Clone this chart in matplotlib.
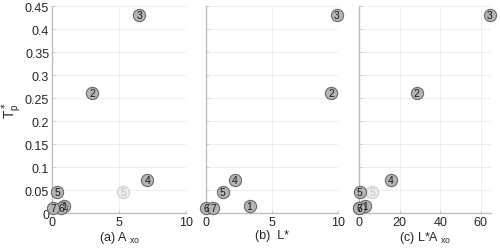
import matplotlib
matplotlib.use("Agg")
import matplotlib.pyplot as plt

plt.rcParams["font.family"] = ["Liberation Sans", "DejaVu Sans"]

# point labels and values
labels = ["1", "2", "3", "4", "5", "6", "7"]
tp = [0.016, 0.26, 0.43, 0.073, 0.045, 0.012, 0.011]
a_xo = [0.9, 3.0, 6.5, 7.1, 0.4, 0.7, 0.1]
l_star = [3.3, 9.5, 9.9, 2.2, 1.25, 0.0, 0.55]
l_a_xo = [3.0, 28.4, 64.5, 15.8, 0.3, 0.0, 0.1]

# the faded extra "5" point
extra_label = "5"
extra_tp = 0.045
extra_a_xo = 5.3
extra_l_a_xo = 6.5

y_ticks = [0, 0.05, 0.1, 0.15, 0.2, 0.25, 0.3, 0.35, 0.4, 0.45]
y_tick_labels = ["0", "0.05", "0.1", "0.15", "0.2", "0.25", "0.3", "0.35", "0.4", "0.45"]

panels = [
    (a_xo, [0, 5, 10], (0, 10), r"(a) A$_{\ \mathregular{xo}}$", extra_a_xo),
    (l_star, [0, 5, 10], (0, 10), "(b)  L*", None),
    (l_a_xo, [0, 20, 40, 60], (0, 65), r"(c) L*A$_{\ \mathregular{xo}}$", extra_l_a_xo),
]
lefts = [0.104, 0.412, 0.718]
widths = [0.268, 0.264, 0.264]

fig = plt.figure(figsize=(5.0, 2.51), dpi=100)


def draw_point(ax, x, y, text, face, edge, tcol):
    ax.plot(x, y, "o", ms=8.8, mfc=face, mec=edge, mew=0.8, clip_on=False, zorder=3)
    ax.text(x, y, text, ha="center", va="center", fontsize=7.5, color=tcol,
            zorder=4, clip_on=False)


for i, (xs, xt, xl, xlabel, extra_x) in enumerate(panels):
    ax = fig.add_axes([lefts[i], 0.147, widths[i], 0.825])
    ax.set_xlim(*xl)
    ax.set_ylim(0, 0.45)
    ax.set_xticks(xt)
    ax.set_yticks(y_ticks)
    if i == 0:
        ax.set_yticklabels(y_tick_labels)
        ax.set_ylabel(r"T$^*_{\mathregular{p}}$", fontsize=10, color="#262626", labelpad=1)
    else:
        ax.set_yticklabels([])
    ax.set_xlabel(xlabel, fontsize=9, color="#262626", labelpad=1)
    ax.grid(True, color="#ebebeb", lw=0.6)
    ax.set_axisbelow(True)
    for side in ["top", "right"]:
        ax.spines[side].set_visible(False)
    for side in ["left", "bottom"]:
        ax.spines[side].set_color("#bdbdbd")
        ax.spines[side].set_linewidth(1.0)
    ax.tick_params(direction="in", length=2, width=0.5, color="#bdbdbd",
                   labelsize=9, labelcolor="#262626", pad=2)

    if extra_x is not None:
        draw_point(ax, extra_x, extra_tp, extra_label, "#ececec", "#cfcfcf", "#c4c4c4")
    for lab, x, y in zip(labels, xs, tp):
        draw_point(ax, x, y, lab, "#b5b5b5", "#6a6a6a", "#1a1a1a")

fig.savefig("out.png", dpi=100)
